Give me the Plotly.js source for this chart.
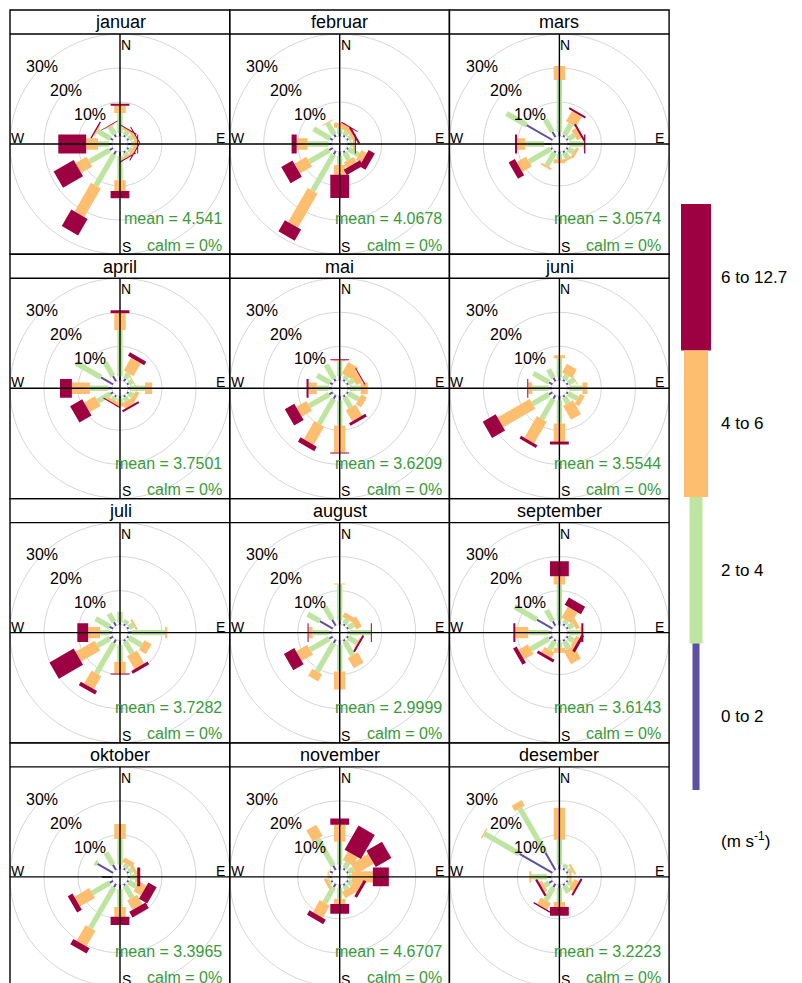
<!DOCTYPE html>
<html>
<head>
<meta charset="utf-8">
<script src="https://cdn.plot.ly/plotly-3.0.1.min.js"></script>
<style>
  html, body { margin: 0; padding: 0; background: #ffffff; overflow: hidden; }
  #wrap { width: 802px; height: 983px; overflow: hidden; }
  #chart { width: 802px; height: 1000px; }
</style>
</head>
<body>
<div id="wrap"><div id="chart"></div></div>
<script>
// ---- data -------------------------------------------------------------
const months = ['januar', 'februar', 'mars', 'april', 'mai', 'juni',
                'juli', 'august', 'september', 'oktober', 'november', 'desember'];
const directions = [0, 30, 60, 90, 120, 150, 180, 210, 240, 270, 300, 330];
const speedBins = ['0 to 2', '2 to 4', '4 to 6', '6 to 12.7'];
const meanSpeed = [4.541, 4.0678, 3.0574, 3.7501, 3.6209, 3.5544,
                   3.7282, 2.9999, 3.6143, 3.3965, 4.6707, 3.2223];
const calmPct = [0, 0, 0, 0, 0, 0, 0, 0, 0, 0, 0, 0];
const ringTicks = [10, 20, 30];

// frequency (%) per month (rows) and direction (columns), one table per speed bin
const freq0to2 = [
  [0.9, 0.6, 0.6, 0.9, 0.6, 0.6, 1.2, 1.2, 1.2, 0.9, 0.9, 0.9],
  [0.6, 0.6, 0.6, 0.6, 0.6, 0.6, 1.2, 1.2, 1.2, 0.9, 0.9, 0.9],
  [1.2, 0.6, 0.6, 0.6, 0.6, 0.6, 0.6, 0.6, 0.6, 2.1, 8.8, 1.8],
  [1.2, 0.9, 0.6, 0.6, 0.6, 0.6, 0.6, 0.6, 0.9, 1.2, 4.1, 1.8],
  [1.2, 0.6, 0.6, 0.6, 0.6, 0.6, 1.2, 1.2, 1.2, 0.9, 0.9, 0.9],
  [0.9, 0.6, 0.6, 0.6, 0.6, 0.6, 1.2, 1.2, 1.2, 0.9, 1.2, 1.2],
  [0.6, 0.6, 0.6, 1.2, 0.6, 0.6, 1.2, 1.2, 1.2, 0.9, 1.2, 1.2],
  [1.2, 0.6, 0.6, 0.6, 0.6, 0.6, 1.2, 1.2, 1.2, 0.9, 4.4, 2.1],
  [1.2, 0.6, 0.6, 0.6, 0.6, 0.6, 0.6, 0.6, 1.2, 0.9, 5.3, 1.5],
  [1.2, 0.6, 0.6, 0.6, 0.6, 0.6, 1.2, 1.2, 1.2, 2.9, 5.3, 1.8],
  [1.2, 0.6, 0.6, 0.3, 0.6, 0.6, 0.9, 1.2, 0.6, 0.6, 0.9, 1.5],
  [1.2, 0.6, 0.6, 0.3, 0.6, 0.6, 0.9, 1.2, 1.2, 1.2, 11.2, 5.9]
];
const freq2to4 = [
  [5.9, 1.2, 1.2, 0.9, 0.9, 0.9, 7.1, 10.6, 6.8, 3.2, 4.4, 2.6],
  [1.8, 1.2, 0.9, 0.9, 3.5, 2.4, 2.6, 12.4, 6.8, 6.2, 5.6, 3.8],
  [15.3, 3.8, 2.1, 4.1, 1.8, 1.8, 1.5, 4.4, 7.4, 5.6, 6.8, 4.1],
  [13.5, 1.8, 1.2, 4.4, 1.5, 1.2, 1.2, 0.9, 4.3, 5.3, 8.5, 4.7],
  [4.4, 1.2, 1.8, 3.2, 3.5, 3.5, 7.4, 8.5, 6.8, 3.5, 4.4, 4.7],
  [5.6, 1.5, 2.1, 3.8, 3.2, 2.1, 6.8, 6.8, 5.6, 4.7, 5.3, 2.9],
  [3.2, 1.2, 1.5, 9.7, 4.4, 4.1, 5.0, 10.3, 4.1, 2.6, 4.7, 2.9],
  [10.6, 1.5, 1.8, 6.2, 2.9, 4.7, 7.9, 9.7, 6.5, 4.7, 4.1, 4.4],
  [10.6, 1.2, 1.8, 3.2, 1.8, 2.4, 1.5, 2.9, 6.2, 5.9, 7.6, 3.8],
  [7.6, 1.2, 1.2, 1.5, 2.6, 4.1, 5.3, 13.8, 5.9, 0.0, 0.9, 4.1],
  [6.8, 1.8, 1.8, 0.9, 1.2, 1.2, 3.2, 5.3, 0.6, 0.3, 0.3, 9.1],
  [7.4, 1.2, 1.2, 0.3, 1.2, 2.4, 4.1, 4.4, 1.5, 4.7, 11.8, 15.0]
];
const freq4to6 = [
  [2.1, 0.6, 0.9, 0.9, 0.9, 0.6, 3.2, 9.7, 3.8, 3.5, 0.4, 0.3],
  [1.5, 1.5, 0.9, 0.6, 1.8, 1.8, 2.9, 11.5, 4.1, 3.2, 0.0, 0.3],
  [4.1, 3.5, 1.5, 0.2, 0.9, 0.6, 1.2, 0.6, 3.2, 2.4, 0.0, 0.0],
  [5.0, 4.4, 0.3, 2.1, 1.2, 1.8, 1.2, 0.9, 3.7, 5.3, 0.0, 0.0],
  [0.3, 3.8, 2.1, 2.1, 1.8, 3.8, 7.9, 6.2, 3.5, 2.4, 0.0, 0.0],
  [0.9, 2.9, 0.3, 1.5, 1.5, 4.7, 5.3, 7.4, 10.9, 1.2, 0.0, 0.0],
  [0.0, 0.0, 0.6, 0.6, 2.4, 4.4, 3.5, 4.4, 6.5, 3.5, 0.0, 0.0],
  [0.3, 1.5, 1.8, 0.0, 0.3, 3.5, 5.3, 2.4, 3.8, 1.2, 0.0, 0.0],
  [2.4, 3.7, 1.2, 0.3, 1.2, 4.4, 1.5, 1.8, 3.2, 3.8, 0.0, 0.0],
  [4.4, 1.5, 0.9, 0.6, 2.5, 3.2, 2.9, 5.3, 5.1, 0.0, 0.0, 0.0],
  [5.0, 2.9, 5.9, 6.2, 2.4, 2.1, 1.5, 4.1, 0.9, 0.3, 0.0, 3.8],
  [9.4, 0.0, 0.6, 0.6, 1.5, 0.0, 1.5, 2.2, 0.9, 0.6, 0.4, 1.9]
];
const freq6to12 = [
  [0.6, 0.3, 0.3, 0.3, 0.3, 0.3, 2.1, 5.6, 6.8, 8.2, 0.4, 0.2],
  [0.0, 0.3, 0.6, 0.3, 2.1, 1.8, 6.8, 3.8, 3.8, 1.5, 0.0, 0.0],
  [0.0, 0.6, 0.6, 0.4, 0.0, 0.0, 0.0, 0.0, 2.1, 0.6, 0.0, 0.0],
  [0.9, 1.2, 0.0, 0.0, 0.0, 0.6, 0.0, 0.3, 4.1, 3.5, 0.0, 0.0],
  [0.3, 0.0, 0.3, 0.0, 0.0, 0.9, 0.3, 1.5, 3.2, 0.6, 0.0, 0.0],
  [0.0, 0.0, 0.0, 0.0, 0.0, 0.0, 0.9, 0.9, 4.4, 0.3, 0.0, 0.0],
  [0.0, 0.0, 0.0, 0.0, 0.0, 0.9, 0.3, 1.2, 8.2, 3.2, 0.0, 0.0],
  [0.0, 0.0, 0.0, 0.3, 0.6, 0.0, 0.0, 0.0, 3.5, 0.3, 0.0, 0.0],
  [4.4, 2.5, 0.0, 0.6, 0.9, 0.0, 0.0, 0.9, 1.2, 0.6, 0.0, 0.0],
  [0.0, 0.0, 0.0, 0.9, 2.8, 1.9, 2.4, 1.8, 1.6, 0.0, 0.0, 0.0],
  [1.8, 8.2, 5.3, 4.7, 0.9, 0.0, 2.9, 1.5, 0.0, 0.0, 0.0, 0.0],
  [0.0, 0.0, 0.0, 0.0, 0.6, 0.0, 2.6, 0.4, 0.7, 0.0, 0.0, 0.0]
];

// ---- styling / geometry -----------------------------------------------
const binTables = [freq0to2, freq2to4, freq4to6, freq6to12];
const binColours = ['#5E4FA2', '#BEE5A0', '#FDBE6F', '#9E0142'];
const segHalfWidth = [1.0, 2.7, 5.7, 9.4];   // px, each speed band drawn wider
const FONT = 'Arial, "Liberation Sans", sans-serif';
const W = 802, H = 1000;
const R = 110, holePx = 8, rMax = 30;
const pxPerPct = (R - holePx) / rMax;
const frameLeft = 10, colW = 219.7;
const rowTop0 = 10, rowH = 244.3, stripH = 24;
const DEG = 180 / Math.PI;

const X = px => px / W;
const Y = py => 1 - py / H;

// A segment of the rose is a rectangle of constant pixel width lying along
// its direction, from frequency `from` to frequency `to` (in %).
// Returns its four corners in polar (r, theta) data units.
function segmentCorners(dir, from, to, halfW) {
  const corners = [];
  [[from, -1], [from, 1], [to, 1], [to, -1]].forEach(([f, side]) => {
    const along = holePx + pxPerPct * f;
    const rho = Math.hypot(along, halfW);
    corners.push({
      r: (rho - holePx) / pxPerPct,
      theta: dir + side * Math.atan2(halfW, along) * DEG
    });
  });
  return corners;
}

const data = [];
const layout = {
  width: W, height: H,
  margin: {l: 0, r: 0, t: 0, b: 0},
  paper_bgcolor: '#ffffff',
  showlegend: false,
  font: {family: FONT, color: '#000000'},
  shapes: [], annotations: []
};

months.forEach((name, i) => {
  const c = i % 3, rw = Math.floor(i / 3);
  const x0 = frameLeft + c * colW, x1 = x0 + colW;
  const top = rowTop0 + rw * rowH, bottom = top + rowH;
  const cx = x0 + 110, cy = top + stripH + 110;
  const sub = i === 0 ? 'polar' : 'polar' + (i + 1);

  // stacked speed bands for each direction
  const cum = directions.map(() => 0);
  binTables.forEach((tbl, b) => {
    const vals = tbl[i];
    const rr = [], tt = [];
    vals.forEach((v, j) => {
      if (v > 0) {
        segmentCorners(directions[j], cum[j], cum[j] + v, segHalfWidth[b]).forEach(p => {
          rr.push(p.r); tt.push(p.theta);
        });
        rr.push(null); tt.push(null);
      }
      cum[j] += v;
    });
    data.push({
      type: 'scatterpolar', subplot: sub, name: speedBins[b],
      r: rr, theta: tt, mode: 'lines', fill: 'toself',
      fillcolor: binColours[b], line: {width: 0, color: binColours[b]},
      hoverinfo: 'skip'
    });
  });

  layout[sub] = {
    domain: {x: [X(cx - R), X(cx + R)], y: [Y(cy + R), Y(cy - R)]},
    bgcolor: 'rgba(0,0,0,0)',
    hole: holePx / R,
    radialaxis: {
      range: [0, rMax], tickvals: [0].concat(ringTicks.slice(0, -1)),
      showticklabels: false, ticks: '', showline: false,
      gridcolor: '#d6d6d6', gridwidth: 1, layer: 'below traces'
    },
    angularaxis: {
      rotation: 90, direction: 'clockwise',
      showgrid: false, showticklabels: false, ticks: '',
      showline: true, linecolor: '#d6d6d6', linewidth: 1, layer: 'below traces'
    }
  };

  // panel frame, strip and compass cross
  const line = {color: '#000000', width: 1.4};
  layout.shapes.push(
    {type: 'rect', xref: 'paper', yref: 'paper', x0: X(x0), x1: X(x1), y0: Y(bottom), y1: Y(top), line: line},
    {type: 'line', xref: 'paper', yref: 'paper', x0: X(x0), x1: X(x1), y0: Y(top + stripH), y1: Y(top + stripH), line: line},
    {type: 'line', xref: 'paper', yref: 'paper', x0: X(cx), x1: X(cx), y0: Y(bottom), y1: Y(top + stripH), line: line},
    {type: 'line', xref: 'paper', yref: 'paper', x0: X(x0), x1: X(x1), y0: Y(cy), y1: Y(cy), line: line}
  );

  const ann = (x, y, text, size, extra) => Object.assign({
    xref: 'paper', yref: 'paper', x: X(x), y: Y(y), text: text, showarrow: false,
    xanchor: 'center', yanchor: 'middle', font: {size: size, family: FONT, color: '#000000'}
  }, extra || {});

  layout.annotations.push(ann(cx, top + stripH / 2 + 0.5, name, 18));
  ringTicks.forEach(t => {
    const rp = holePx + t * pxPerPct;
    layout.annotations.push(ann(cx - rp * 0.7071, cy - rp * 0.7071, t + '%', 16));
  });
  layout.annotations.push(
    ann(cx + 6, cy - 99, 'N', 14),
    ann(cx + 100, cy - 6, 'E', 14),
    ann(cx + 6, cy + 103, 'S', 14),
    ann(cx - 102, cy - 6, 'W', 14),
    ann(cx + 104, cy + 75, 'mean = ' + meanSpeed[i], 16,
        {xanchor: 'right', font: {size: 16, family: FONT, color: '#3a9a3a'}}),
    ann(cx + 104, cy + 101, 'calm = ' + calmPct[i] + '%', 16,
        {xanchor: 'right', font: {size: 16, family: FONT, color: '#3a9a3a'}})
  );
});

// ---- speed key ----------------------------------------------------------
const keyTop = 204, keyStep = 146.5;
const keyHalfW = [3.5, 6.5, 12, 15];
const keyCx = 696;
for (let b = 3; b >= 0; b--) {
  const k = 3 - b;
  const y0 = keyTop + k * keyStep, y1 = y0 + keyStep;
  layout.shapes.push({
    type: 'rect', xref: 'paper', yref: 'paper', layer: 'above',
    x0: X(keyCx - keyHalfW[b]), x1: X(keyCx + keyHalfW[b]), y0: Y(y1), y1: Y(y0),
    fillcolor: binColours[b], line: {width: 0}
  });
  layout.annotations.push({
    xref: 'paper', yref: 'paper', x: X(719), y: Y((y0 + y1) / 2), text: speedBins[b],
    showarrow: false, xanchor: 'left', yanchor: 'middle',
    font: {size: 17, family: FONT, color: '#000000'}
  });
}
layout.annotations.push({
  xref: 'paper', yref: 'paper', x: X(719), y: Y(840), text: '(m s<sup>-1</sup>)',
  showarrow: false, xanchor: 'left', yanchor: 'middle',
  font: {size: 17, family: FONT, color: '#000000'}
});

Plotly.newPlot('chart', data, layout, {staticPlot: true, displayModeBar: false});
</script>
</body>
</html>
